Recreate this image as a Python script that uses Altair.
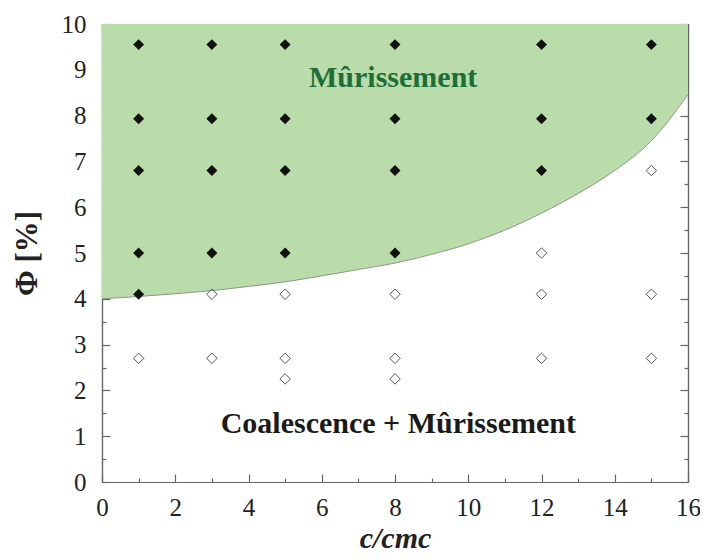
import altair as alt
import pandas as pd

# ---- data ----
filled_x = [1, 1, 1, 1, 1, 3, 3, 3, 3, 5, 5, 5, 5, 8, 8, 8, 8, 12, 12, 12, 15, 15]
filled_y = [9.55, 7.93, 6.8, 5.0, 4.1, 9.55, 7.93, 6.8, 5.0, 9.55, 7.93, 6.8, 5.0,
            9.55, 7.93, 6.8, 5.0, 9.55, 7.93, 6.8, 9.55, 7.93]
open_x = [1, 3, 3, 5, 5, 5, 8, 8, 8, 12, 12, 12, 15, 15, 15]
open_y = [2.7, 4.1, 2.7, 4.1, 2.7, 2.25, 4.1, 2.7, 2.25, 5.0, 4.1, 2.7, 6.8, 4.1, 2.7]
curve_x = [0, 1, 2, 3, 4, 5, 6, 7, 8, 9, 10, 11, 12, 13, 14, 15, 16]
curve_y = [4.0, 4.05, 4.11, 4.18, 4.27, 4.37, 4.5, 4.64, 4.78, 4.97, 5.2, 5.5, 5.87, 6.3, 6.8, 7.45, 8.46]
label_text = ["Mûrissement", "Coalescence + Mûrissement"]
label_x = [7.95, 8.09]
label_y = [8.63, 1.08]
label_color = ["#1e6e3a", "#1a1a1a"]

x_major = list(range(0, 17, 2))
x_minor = list(range(1, 16, 2))
y_major = list(range(0, 11))
y_minor = [v + 0.5 for v in range(0, 10)]

filled_df = pd.DataFrame({"x": filled_x, "y": filled_y})
open_df = pd.DataFrame({"x": open_x, "y": open_y})
curve_df = pd.DataFrame({"x": curve_x, "y": curve_y})
label_df = pd.DataFrame({"t": label_text, "x": label_x, "y": label_y, "c": label_color})

XS = alt.Scale(domain=[0, 16], nice=False, zero=False)
YS = alt.Scale(domain=[0, 10], nice=False, zero=False)

FONT = "Liberation Serif"
AX = dict(domainColor="#666666", tickColor="#666666", labelFont=FONT, labelFontSize=25,
          labelColor="#222222", grid=False, domainWidth=1.2, tickWidth=1.2)


def xaxis(orient, values, size, labels=False, title=None):
    kw = dict(AX)
    if title is not None:
        kw.update(title=title, titleFont=FONT, titleFontSize=30, titleFontWeight="bold",
                  titleFontStyle="italic", titleColor="#222222", titlePadding=3)
    else:
        kw.update(title=None)
    return alt.Axis(orient=orient, values=values, tickSize={"expr": str(-size)},
                    labels=labels, labelPadding=21, labelFlush=False, **kw)


def yaxis(orient, values, size, labels=False, title=None):
    kw = dict(AX)
    if title is not None:
        kw.update(title=title, titleFont=FONT, titleFontSize=31, titleFontWeight="bold",
                  titleColor="#222222", titlePadding=18)
    else:
        kw.update(title=None)
    return alt.Axis(orient=orient, values=values, tickSize={"expr": str(-size)},
                    labels=labels, labelPadding=24, **kw)


area = alt.Chart(curve_df).mark_area(color="#b9dcaa", interpolate="monotone", opacity=1).encode(
    x=alt.X("x:Q", scale=XS, axis=xaxis("bottom", x_major, 8, labels=True, title="c/cmc")),
    y=alt.Y("y:Q", scale=YS, axis=yaxis("left", y_major, 8, labels=True, title="Φ [%]")),
    y2=alt.datum(10),
)

edge = alt.Chart(curve_df).mark_line(color="#8a9a88", strokeWidth=1, interpolate="monotone").encode(
    x=alt.X("x:Q", scale=XS, axis=xaxis("top", x_major, 8)),
    y=alt.Y("y:Q", scale=YS, axis=yaxis("right", y_major, 8)),
)

filled = alt.Chart(filled_df).mark_point(shape="diamond", filled=True, color="#111111",
                                         size=120, opacity=1).encode(
    x=alt.X("x:Q", scale=XS, axis=xaxis("bottom", x_minor, 4)),
    y=alt.Y("y:Q", scale=YS, axis=yaxis("left", y_minor, 4)),
)

hollow = alt.Chart(open_df).mark_point(shape="diamond", filled=False, stroke="#555555",
                                       strokeWidth=1, size=110, opacity=1).encode(
    x=alt.X("x:Q", scale=XS, axis=xaxis("top", x_minor, 4)),
    y=alt.Y("y:Q", scale=YS, axis=yaxis("right", y_minor, 4)),
)

texts = alt.Chart(label_df).mark_text(font=FONT, fontSize=30, fontWeight="bold",
                                      align="center", baseline="alphabetic").encode(
    x=alt.X("x:Q", scale=XS, axis=None),
    y=alt.Y("y:Q", scale=YS, axis=None),
    text="t:N",
    color=alt.Color("c:N", scale=None),
)

chart = alt.layer(area, edge, filled, hollow, texts).resolve_axis(
    x="independent", y="independent"
).properties(
    width=586, height=458,
    autosize=alt.AutoSizeParams(type="none"),
    padding={"left": 94, "top": 16, "right": 12, "bottom": 70},
).configure_view(stroke=None).configure(background="white")

chart.save("out.html", embed_options={"renderer": "svg", "actions": False})
